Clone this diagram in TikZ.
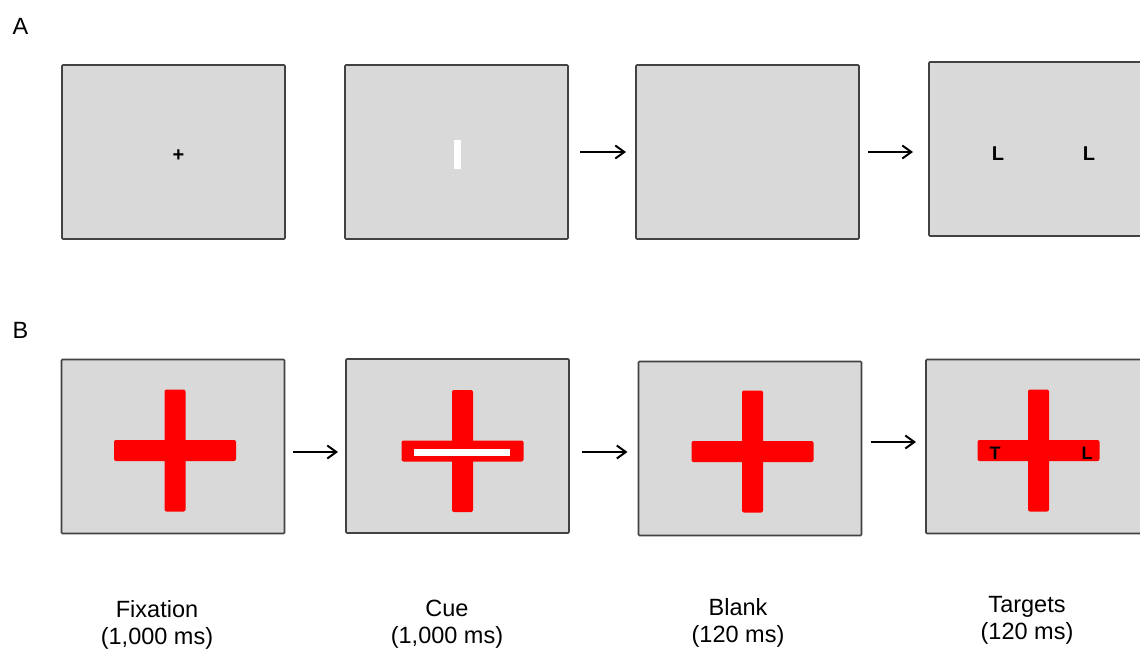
\documentclass[tikz,border=0pt]{standalone}
\usepackage{fontspec}
\setmainfont{Liberation Sans}
\usetikzlibrary{arrows.meta}
\definecolor{screengray}{HTML}{D9D9D9}
\definecolor{framegray}{HTML}{424242}
\definecolor{crossred}{HTML}{FF0000}

\begin{document}
\begin{tikzpicture}[x=1pt, y=-1pt, line width=2pt,
  screen/.style = {draw=framegray, fill=screengray, line width=1.6pt, rounded corners=1pt, minimum width=223pt, minimum height=174pt, inner sep=0pt, outer sep=0pt},
  letter/.style = {font=\fontsize{20}{20}\selectfont\bfseries, inner sep=0pt},
  smallletter/.style = {font=\fontsize{18}{18}\selectfont\bfseries, inner sep=0pt},
  caption/.style = {align=center, font=\fontsize{23.5}{27}\selectfont},
  panel/.style = {font=\fontsize{23.5}{23.5}\selectfont, inner sep=0pt},
  redcross/.pic = {
    \fill[crossred, rounded corners=2pt] (-10.5,-61) rectangle (10.5,61);
    \fill[crossred, rounded corners=2pt] (-61,-10.5) rectangle (61,10.5);
  },
  >={Straight Barb[length=9pt, width=13pt]}]
\clip (0,0) rectangle (1140,648);

% row A
\node[panel] (labA) at (20.5,26.5) {A};
\node[screen] (a1) at (173.5,152) {};
\node[screen] (a2) at (456.5,152) {};
\node[screen] (a3) at (747.5,152) {};
\node[screen] (a4) at (1040.5,149) {};
\node[font=\fontsize{20}{20}\selectfont\bfseries, inner sep=0pt] (fix) at (178.5,155.5) {+};
\fill[white] (454,139.5) rectangle (460.5,168.5);
\node[letter] (la1) at (998,154) {L};
\node[letter] (la2) at (1089,154) {L};
\draw[->, shorten <=12pt, shorten >=10pt] (a2) -- (a3);
\draw[->, shorten <=9pt, shorten >=16pt] (a3.east) -- (a3.east -| a4.west);

% row B
\node[panel] (labB) at (20.5,330) {B};
\node[screen] (b1) at (173,446.5) {};
\node[screen] (b2) at (457.5,446) {};
\node[screen] (b3) at (750,448.5) {};
\node[screen] (b4) at (1037.5,446.5) {};
\pic at (175,450.5) {redcross};
\pic at (462.5,451) {redcross};
\pic at (752.5,451.5) {redcross};
\pic at (1038.5,450.5) {redcross};
\fill[white] (414,449) rectangle (510,455.5);
\node[smallletter] (tb) at (995,453) {T};
\node[smallletter] (lb) at (1087,453) {L};
\draw[->, shorten <=8pt, shorten >=8pt] (b1.east |- 0,452) -- (b2.west |- 0,452);
\draw[->, shorten <=13pt, shorten >=11pt] (b2.east |- 0,452) -- (b3.west |- 0,452);
\draw[->, shorten <=9pt, shorten >=10pt] (b3.east |- 0,442) -- (b4.west |- 0,442);

% captions
\node[caption] (cap1) at (157,624.5) {Fixation\\(1,000 ms)};
\node[caption] (cap2) at (447,624.5) {Cue\\(1,000 ms)};
\node[caption] (cap3) at (738,622.5) {Blank\\(120 ms)};
\node[caption] (cap4) at (1027,620.5) {Targets\\(120 ms)};
\end{tikzpicture}
\end{document}
